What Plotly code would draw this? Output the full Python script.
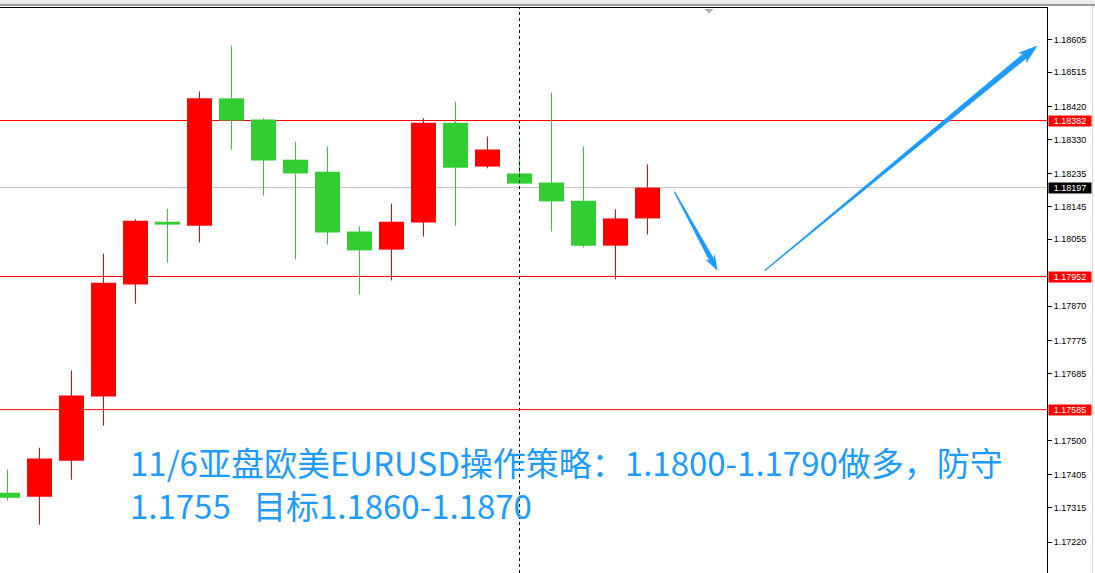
import math
import plotly.graph_objects as go

# ---------------- data ----------------
bar_index = list(range(21))
open_ = [1.17356, 1.17345, 1.17444, 1.17621, 1.17930, 1.18103, 1.18092, 1.18443, 1.18385, 1.18274,
         1.18241, 1.18076, 1.18026, 1.18101, 1.18376, 1.18255, 1.18236, 1.18211, 1.18161, 1.18037, 1.18112]
high = [1.17420, 1.17480, 1.17693, 1.18015, 1.18110, 1.18139, 1.18462, 1.18589, 1.18388, 1.18324,
        1.18310, 1.18090, 1.18153, 1.18388, 1.18434, 1.18338, 1.18332, 1.18459, 1.18310, 1.18137, 1.18261]
low = [1.17334, 1.17268, 1.17392, 1.17541, 1.17877, 1.17990, 1.18046, 1.18302, 1.18175, 1.17999,
       1.18040, 1.17902, 1.17941, 1.18062, 1.18092, 1.18250, 1.18206, 1.18076, 1.18032, 1.17944, 1.18068]
close = [1.17342, 1.17450, 1.17624, 1.17935, 1.18106, 1.18095, 1.18443, 1.18382, 1.18272, 1.18236,
         1.18073, 1.18024, 1.18103, 1.18376, 1.18252, 1.18302, 1.18208, 1.18159, 1.18037, 1.18112, 1.18197]

tick_values = [1.18605, 1.18515, 1.18420, 1.18330, 1.18235, 1.18145, 1.18055,
               1.17870, 1.17775, 1.17685, 1.17500, 1.17405, 1.17315, 1.17220]
red_levels = [1.18382, 1.17952, 1.17585]
current_price = 1.18197
marker_bar = 16

# arrows: (start bar, start price, end bar, end price)
arrow_down = (20.84, 1.18186, 22.19, 1.17968)
arrow_up = (23.66, 1.17968, 32.19, 1.18589)

text_line1 = "11/6亚盘欧美EURUSD操作策略：1.1800-1.1790做多，防守"
text_line2 = "1.1755\u00a0\u00a0\u00a0目标1.1860-1.1870"

# ---------------- styling / geometry ----------------
RED = "#FF0000"
GREEN = "#32CD32"
BLUE = "#1E9BFF"
FIG_W, FIG_H = 1095, 573
M_L, M_R, M_T, M_B = 0, 48, 8, 0
PW, PH = FIG_W - M_L - M_R, FIG_H - M_T - M_B
X0 = -7.5 / 32
X1 = X0 + PW / 32
K = 36279.0  # pixels per price unit
Y1 = 1.18382 + 112.5 / K
Y0 = Y1 - PH / K


def to_px(x, y):
    return ((x - X0) / (X1 - X0) * PW, (Y1 - y) / (Y1 - Y0) * PH)


def to_data(px, py):
    return (X0 + px / PW * (X1 - X0), Y1 - py / PH * (Y1 - Y0))


def arrow_poly(a, w0, w1, head_len, head_w):
    sx, sy = to_px(a[0], a[1])
    ex, ey = to_px(a[2], a[3])
    dx, dy = ex - sx, ey - sy
    L = math.hypot(dx, dy)
    ux, uy = dx / L, dy / L
    nx, ny = -uy, ux
    bx, by = ex - ux * head_len, ey - uy * head_len
    cx, cy = bx - ux * 3, by - uy * 3
    pts = [
        (sx + nx * w0, sy + ny * w0),
        (bx + nx * w1, by + ny * w1),
        (cx + nx * head_w, cy + ny * head_w),
        (ex, ey),
        (cx - nx * head_w, cy - ny * head_w),
        (bx - nx * w1, by - ny * w1),
        (sx - nx * w0, sy - ny * w0),
    ]
    pts.append(pts[0])
    xs, ys = zip(*[to_data(px, py) for px, py in pts])
    return list(xs), list(ys)


fig = go.Figure()

# wicks
for col, cond in ((RED, lambda o, c: c >= o), (GREEN, lambda o, c: c < o)):
    wx, wy = [], []
    for i, o, h, l, c in zip(bar_index, open_, high, low, close):
        if cond(o, c):
            wx += [i, i, None]
            wy += [l, h, None]
    fig.add_trace(go.Scatter(x=wx, y=wy, mode="lines", line=dict(color=col, width=1),
                             hoverinfo="skip", showlegend=False))

# bodies
min_body = 0.00004
fig.add_trace(go.Bar(
    x=bar_index,
    y=[max(abs(c - o), min_body) for o, c in zip(open_, close)],
    base=[min(o, c) if abs(c - o) >= min_body else (o + c) / 2 - min_body / 2 for o, c in zip(open_, close)],
    width=0.78,
    marker=dict(color=[RED if c >= o else GREEN for o, c in zip(open_, close)], line=dict(width=0)),
    showlegend=False, hoverinfo="skip",
))

# arrows
for a, w0, w1, hl, hw in ((arrow_down, 0.6, 2.6, 13, 5.5), (arrow_up, 0.6, 3.0, 17, 6.5)):
    ax, ay = arrow_poly(a, w0, w1, hl, hw)
    fig.add_trace(go.Scatter(x=ax, y=ay, mode="lines", fill="toself", fillcolor=BLUE,
                             line=dict(width=0, color=BLUE), hoverinfo="skip", showlegend=False))

shapes = []
for lv in red_levels:
    shapes.append(dict(type="line", xref="paper", x0=0, x1=1, yref="y", y0=lv, y1=lv,
                       line=dict(color=RED, width=1), layer="below"))
shapes.append(dict(type="line", xref="paper", x0=0, x1=1, yref="y", y0=current_price, y1=current_price,
                   line=dict(color="#C0C0C0", width=1), layer="below"))
shapes.append(dict(type="line", xref="x", x0=marker_bar, x1=marker_bar, yref="paper", y0=0, y1=1,
                   line=dict(color="black", width=1, dash="3px,3px"), layer="above"))
# window chrome at top
py2paper = lambda py: (FIG_H - M_B - py) / PH
shapes.append(dict(type="rect", xref="paper", x0=-0.01, x1=FIG_W / PW + 0.01, yref="paper",
                   y0=py2paper(4), y1=py2paper(-1), fillcolor="#EBEBEB", line=dict(width=0)))
shapes.append(dict(type="rect", xref="paper", x0=-0.01, x1=FIG_W / PW + 0.01, yref="paper",
                   y0=py2paper(6), y1=py2paper(4), fillcolor="#9A9A9A", line=dict(width=0)))
shapes.append(dict(type="line", xref="paper", x0=1092.5 / PW, x1=1092.5 / PW, yref="paper",
                   y0=0, y1=py2paper(6), line=dict(color="#D8D8D8", width=1)))
# chart shift marker
shapes.append(dict(type="path", xref="paper", yref="paper",
                   path=f"M {704.5/PW},{py2paper(9)} L {713.5/PW},{py2paper(9)} L {709/PW},{py2paper(13.5)} Z",
                   fillcolor="#B0B0B0", line=dict(width=0)))

annotations = []
for lv, bg in [(lv, RED) for lv in red_levels] + [(current_price, "black")]:
    annotations.append(dict(xref="paper", x=1, xanchor="left", xshift=1, yref="y", y=lv,
                            text=f"{lv:.5f}", showarrow=False, bgcolor=bg, borderpad=0,
                            width=42, height=10,
                            font=dict(family="Liberation Sans, Arial", size=9, color="white")))
txt_font = dict(family="Noto Sans CJK SC, Noto Sans", size=33, color=BLUE)
annotations.append(dict(xref="paper", yref="paper", x=128 / PW, y=py2paper(483), xanchor="left",
                        yanchor="middle", align="left", text=text_line1 + "<br>" + text_line2,
                        showarrow=False, font=txt_font))

fig.update_layout(
    width=FIG_W, height=FIG_H,
    margin=dict(l=M_L, r=M_R, t=M_T, b=M_B, pad=0),
    paper_bgcolor="white", plot_bgcolor="white",
    showlegend=False, barmode="overlay",
    shapes=shapes, annotations=annotations,
    xaxis=dict(range=[X0, X1], side="top", showline=True, linecolor="black", linewidth=1,
               showticklabels=False, ticks="", showgrid=False, zeroline=False, fixedrange=True),
    yaxis=dict(range=[Y0, Y1], side="right", showline=True, linecolor="black", linewidth=1,
               ticks="outside", ticklen=4, tickcolor="black", tickvals=tick_values,
               ticktext=[f"{v:.5f}" for v in tick_values], showgrid=False, zeroline=False,
               tickfont=dict(family="Liberation Sans, Arial", size=9, color="black")),
)

fig.write_html("out.html", config={"displayModeBar": False},
               post_script="document.body.style.margin='0';document.body.style.overflow='hidden';")
